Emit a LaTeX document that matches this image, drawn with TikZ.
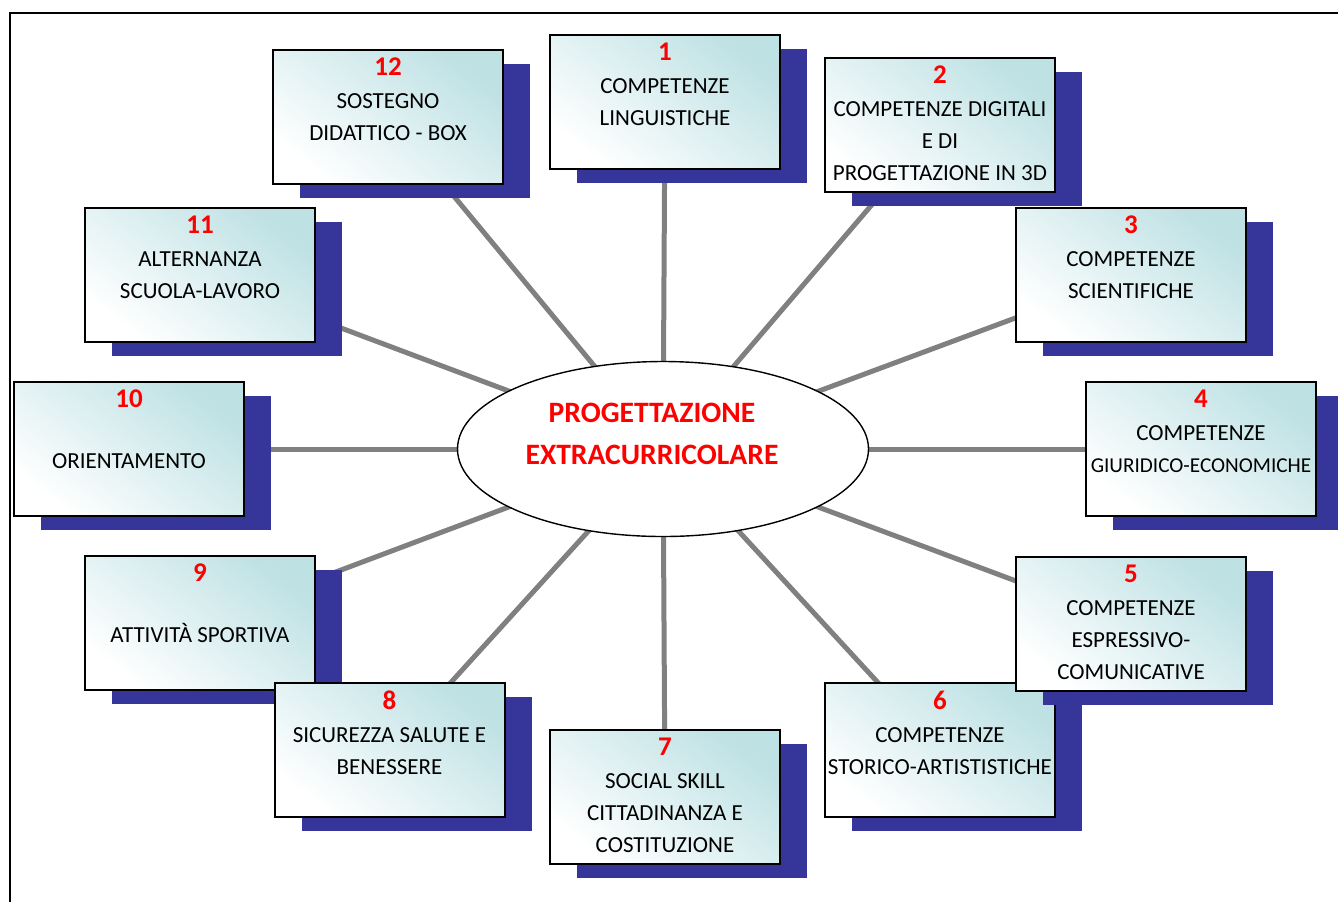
\documentclass[tikz,border=0pt]{standalone}
\usepackage{fontspec}
\setmainfont{Carlito}
\usetikzlibrary{shapes.geometric, shadows, backgrounds}

\definecolor{shadowblue}{RGB}{54,54,154}
\definecolor{boxcyan}{RGB}{190,225,228}
\definecolor{spokegray}{RGB}{128,128,128}
\definecolor{numred}{RGB}{255,0,0}

\tikzset{
	topic/.style={rectangle, draw=black, line width=1pt, inner sep=0pt,
		left color=white, right color=boxcyan, shading angle=142,
		general shadow={fill=shadowblue, shadow xshift=13.5pt, shadow yshift=-7pt}},
	hub/.style={ellipse, draw=black, line width=0.7pt, fill=white, inner sep=0pt,
		minimum width=205.5pt, minimum height=87.5pt},
	spoke/.style={draw=spokegray, line width=2.5pt}
}

% number on top, then the title lines
\newcommand{\boxtext}[3][0.5pt]{%
	\begin{minipage}[t][67pt][t]{115pt}\fontsize{11.5}{16}\selectfont\centering
	\vspace*{4pt}%
	{\fontsize{13.5}{16}\selectfont\bfseries\color{numred}#2}\\[#1]
	#3
	\end{minipage}}

\begin{document}
\begin{tikzpicture}[x=0.5pt,y=-0.5pt]
	\useasboundingbox (0,0) rectangle (1338,902);
	
	%boxes, clockwise from the top
	\node[topic] (b1)  at (665,101.5) {\boxtext{1}{COMPETENZE\\ LINGUISTICHE}};
	\node[topic] (b2)  at (940,125)   {\boxtext{2}{COMPETENZE DIGITALI\\ E DI\\ PROGETTAZIONE IN 3D}};
	\node[topic] (b3)  at (1131,275)  {\boxtext{3}{COMPETENZE\\ SCIENTIFICHE}};
	\node[topic] (b4)  at (1201,449)  {\boxtext{4}{COMPETENZE\\ {\fontsize{10.6}{16}\selectfont GIURIDICO-ECONOMICHE}}};
	\node[topic] (b6)  at (940,750)   {\boxtext{6}{COMPETENZE\\ STORICO-ARTISTISTICHE}};	%under 5
	\node[topic] (b5)  at (1131,624)  {\boxtext{5}{COMPETENZE\\ ESPRESSIVO-\\ COMUNICATIVE}};
	\node[topic] (b7)  at (665,797)   {\boxtext{7}{SOCIAL SKILL\\ CITTADINANZA E\\ COSTITUZIONE}};
	\node[topic] (b9)  at (200,623)   {\boxtext[14.5pt]{9}{ATTIVITÀ SPORTIVA}};			%under 8
	\node[topic] (b8)  at (389.5,750) {\boxtext{8}{SICUREZZA SALUTE E\\ BENESSERE}};
	\node[topic] (b10) at (129,449)   {\boxtext[14.5pt]{10}{ORIENTAMENTO}};
	\node[topic] (b11) at (200,275)   {\boxtext{11}{ALTERNANZA\\ SCUOLA-LAVORO}};
	\node[topic] (b12) at (388,116.5) {\boxtext{12}{SOSTEGNO\\ DIDATTICO - BOX}};
	
	%centre
	\node[hub] (centre) at (663,449) {};
	\node[align=center, text=numred, font=\fontsize{14.8}{21}\selectfont\bfseries] (centrelabel) at (652,434)
		{PROGETTAZIONE\\EXTRACURRICOLARE};
	
	%spokes
	\begin{scope}[on background layer]
		\foreach \b in {1,...,12}
			\draw[spoke] (centre.center) -- (b\b.center);
	\end{scope}
	
	%frame
	\draw[line width=1pt] (10,902) -- (10,13) -- (1338,13);
\end{tikzpicture}
\end{document}
